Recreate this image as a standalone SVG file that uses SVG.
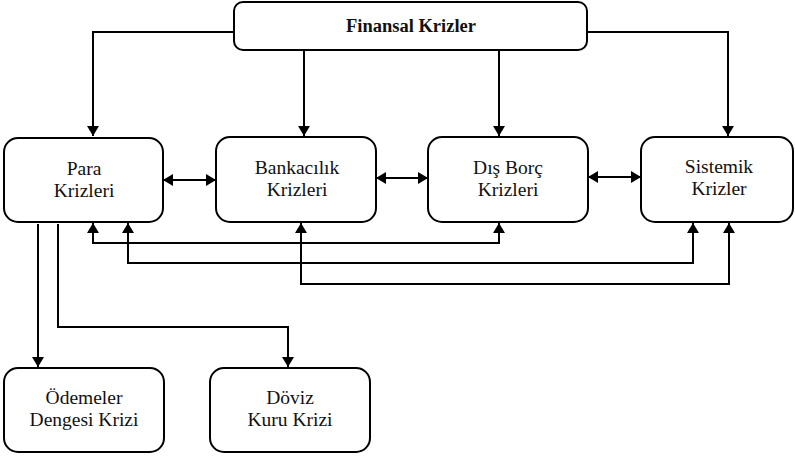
<svg xmlns="http://www.w3.org/2000/svg" width="795" height="457" viewBox="0 0 795 457">
<defs>
<marker id="ah" markerWidth="10" markerHeight="12" refX="10" refY="6" orient="auto" markerUnits="userSpaceOnUse">
<path d="M0,0 L10,6 L0,12 Z" fill="#000"/>
</marker>
<marker id="as" markerWidth="10" markerHeight="12" refX="0" refY="6" orient="auto" markerUnits="userSpaceOnUse">
<path d="M10,0 L0,6 L10,12 Z" fill="#000"/>
</marker>
</defs>
<style>
.box{fill:#fff;stroke:#000;stroke-width:2}
.t{font-family:'Liberation Serif','Times New Roman','DejaVu Serif',serif;font-size:19.5px;fill:#111;text-anchor:middle}
.b{font-weight:bold;font-size:18.5px}
.c{fill:none;stroke:#000;stroke-width:2}
</style>
<rect width="795" height="457" fill="#fff"/>
<g id="connectors">
<path class="c" d="M234,32 H93 V136" marker-end="url(#ah)"/>
<path class="c" d="M304,50 V136" marker-end="url(#ah)"/>
<path class="c" d="M499,50 V136" marker-end="url(#ah)"/>
<path class="c" d="M587,32 H728 V136" marker-end="url(#ah)"/>
<path class="c" d="M163,180 H216" marker-start="url(#as)" marker-end="url(#ah)"/>
<path class="c" d="M376,178 H428" marker-start="url(#as)" marker-end="url(#ah)"/>
<path class="c" d="M588,177 H641" marker-start="url(#as)" marker-end="url(#ah)"/>
<path class="c" d="M93,223 V243 H499 V223" marker-start="url(#as)" marker-end="url(#ah)"/>
<path class="c" d="M128,223 V263 H693 V223" marker-start="url(#as)" marker-end="url(#ah)"/>
<path class="c" d="M301,223 V284 H729 V223" marker-start="url(#as)" marker-end="url(#ah)"/>
<path class="c" d="M38,224 V367" marker-end="url(#ah)"/>
<path class="c" d="M58,224 V327 H288 V367" marker-end="url(#ah)"/>
</g>
<g id="finansal">
<rect class="box" x="234" y="2" width="353" height="48" rx="9"/>
<text class="t b" x="411" y="32">Finansal  Krizler</text>
</g>
<g id="para">
<rect class="box" x="4" y="138" width="159" height="84" rx="14"/>
<text class="t" x="84" y="175">Para</text>
<text class="t" x="84" y="197">Krizleri</text>
</g>
<g id="bankacilik">
<rect class="box" x="216" y="137" width="160" height="85" rx="14"/>
<text class="t" x="297" y="174">Bankacılık</text>
<text class="t" x="297" y="196">Krizleri</text>
</g>
<g id="disborc">
<rect class="box" x="428" y="137" width="160" height="85" rx="14"/>
<text class="t" x="508" y="174">Dış Borç</text>
<text class="t" x="508" y="196">Krizleri</text>
</g>
<g id="sistemik">
<rect class="box" x="641" y="137" width="152" height="85" rx="14"/>
<text class="t" x="719" y="173">Sistemik</text>
<text class="t" x="719" y="195">Krizler</text>
</g>
<g id="odemeler">
<rect class="box" x="4" y="368" width="160" height="84" rx="14"/>
<text class="t" x="84" y="404">Ödemeler</text>
<text class="t" x="84" y="426">Dengesi Krizi</text>
</g>
<g id="doviz">
<rect class="box" x="210" y="368" width="160" height="84" rx="14"/>
<text class="t" x="290" y="404">Döviz</text>
<text class="t" x="290" y="426">Kuru Krizi</text>
</g>
</svg>
